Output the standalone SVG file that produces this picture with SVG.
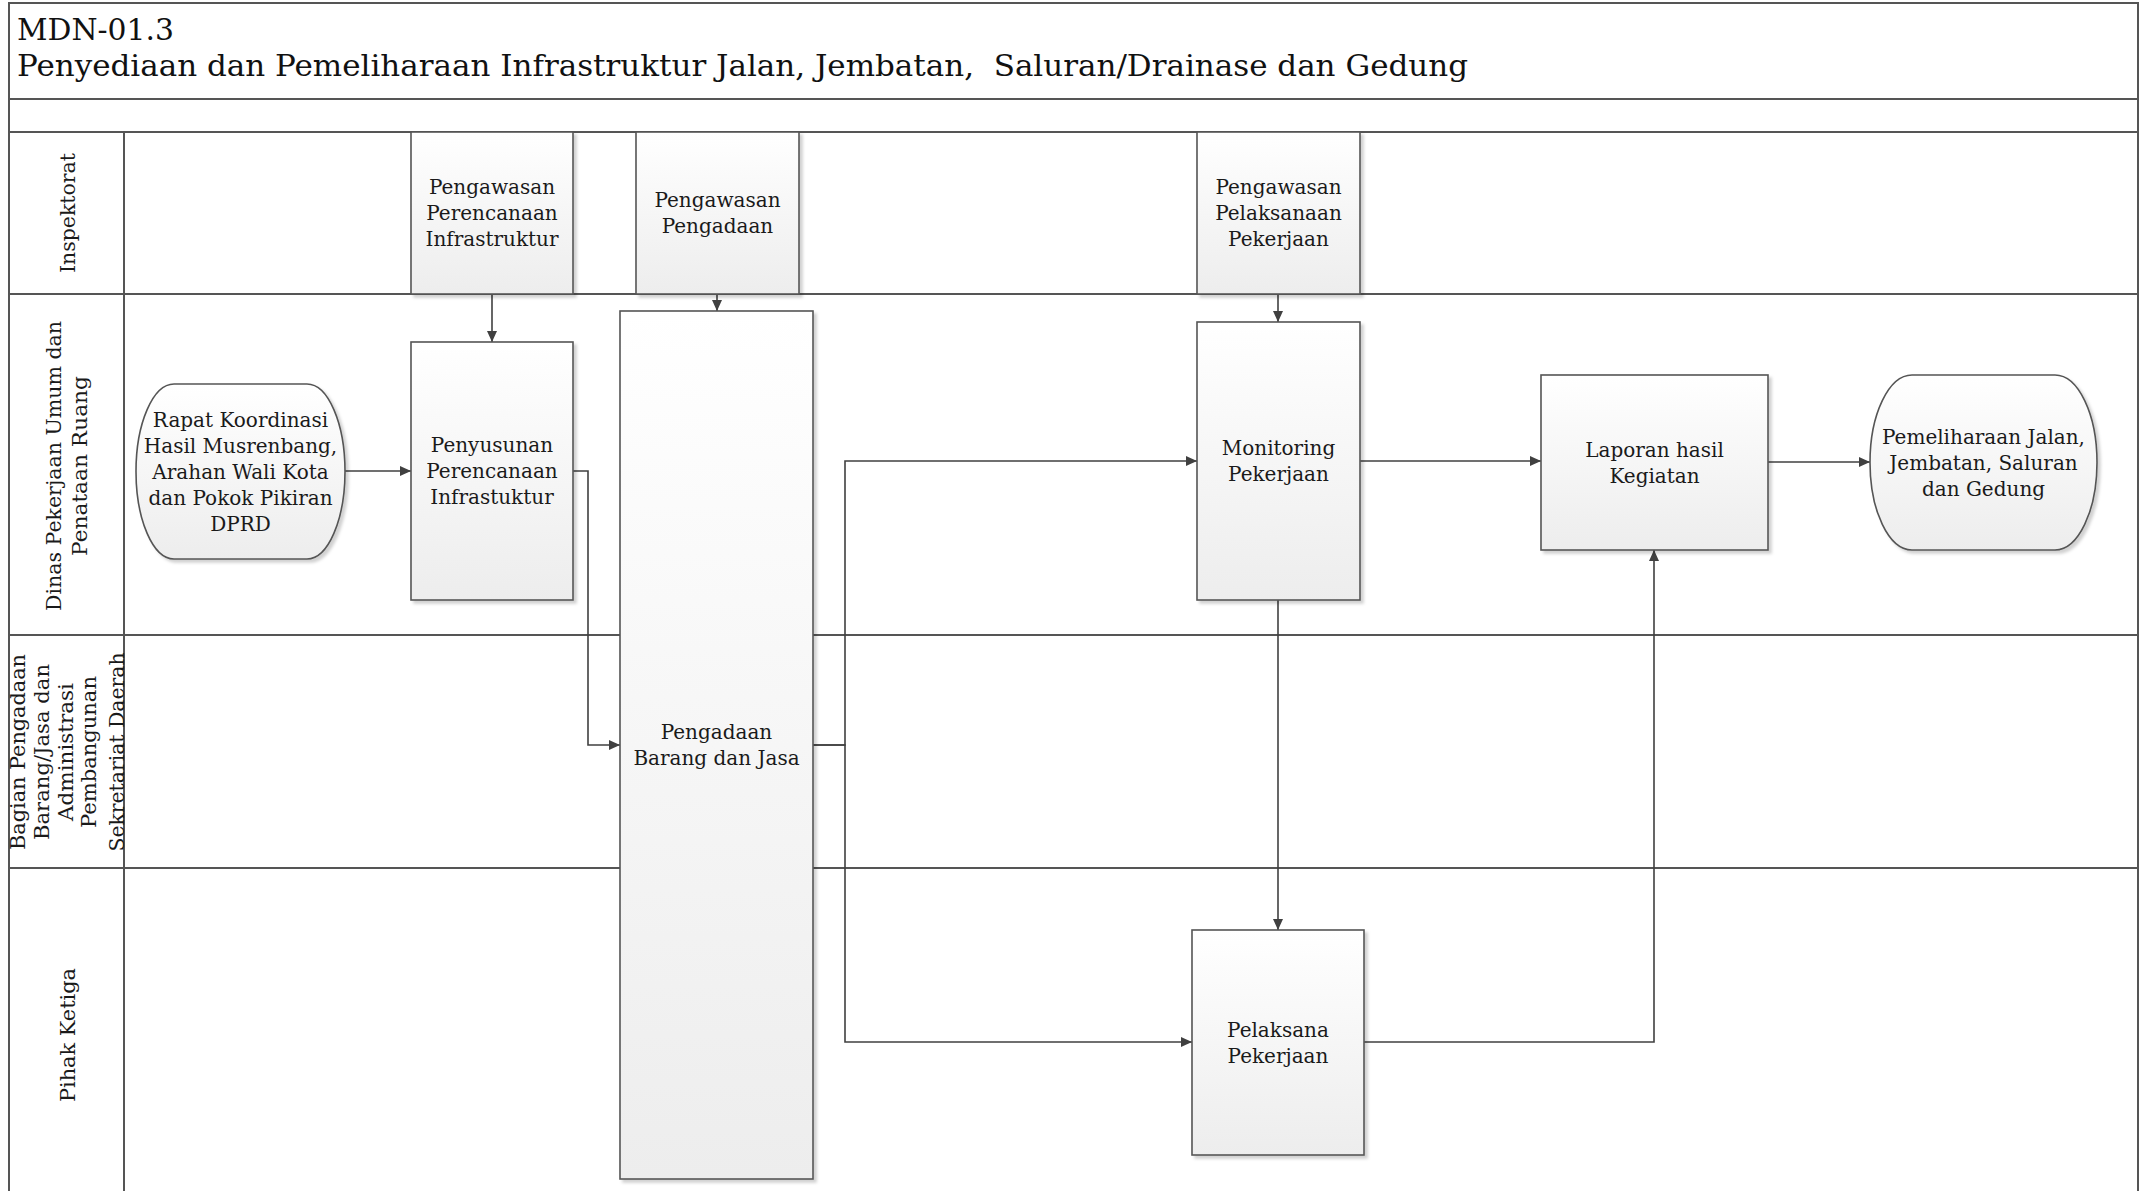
<svg xmlns="http://www.w3.org/2000/svg" width="2141" height="1191" viewBox="0 0 2141 1191">
<style>
.lane{fill:none;stroke:#555;stroke-width:2}
.node{stroke:#555;stroke-width:1.6;fill:url(#gNode);filter:url(#sh)}
.t{font-family:"DejaVu Serif","Liberation Serif",serif;font-size:20px;fill:#1a1a1a;text-anchor:middle}
.lt{font-family:"DejaVu Serif","Liberation Serif",serif;font-size:20px;fill:#1a1a1a;text-anchor:middle}
.title{font-family:"DejaVu Serif","Liberation Serif",serif;font-size:30px;fill:#111}
.c{fill:none;stroke:#404040;stroke-width:1.6}
</style>
<defs>
<linearGradient id="gNode" x1="0" y1="0" x2="0" y2="1">
<stop offset="0" stop-color="#ffffff"/>
<stop offset="1" stop-color="#ededed"/>
</linearGradient>
<linearGradient id="gHead" x1="0" y1="0" x2="0" y2="1">
<stop offset="0" stop-color="#fdfdfd"/>
<stop offset="1" stop-color="#ebebeb"/>
</linearGradient>
<linearGradient id="gCol" x1="0" y1="0" x2="1" y2="0">
<stop offset="0" stop-color="#f7f7f7"/>
<stop offset="1" stop-color="#ececec"/>
</linearGradient>
<filter id="sh" x="-10%" y="-10%" width="130%" height="130%">
<feDropShadow dx="3" dy="3" stdDeviation="1.5" flood-color="#000" flood-opacity="0.18"/>
</filter>
<marker id="ah" markerWidth="11" markerHeight="10" refX="11" refY="5" orient="auto" markerUnits="userSpaceOnUse">
<path d="M0,0 L11,5 L0,10 z" fill="#404040"/>
</marker>
</defs>

<rect x="0" y="0" width="2141" height="1191" fill="#ffffff"/>

<g id="frame">
<rect x="9" y="3" width="2129" height="96" fill="url(#gHead)" class="lane"/>
<rect x="9" y="99" width="2129" height="33" fill="url(#gHead)" class="lane"/>
<rect x="9" y="132" width="115" height="1070" fill="url(#gCol)" class="lane"/>
<path class="lane" d="M9,132 H2138 M9,294 H2138 M9,635 H2138 M9,868 H2138 M9,99 V1191 M2138,3 V1191 M124,132 V1191"/>
<text class="title" x="17" y="39.5" textLength="157" lengthAdjust="spacingAndGlyphs">MDN-01.3</text>
<text class="title" x="17" y="76" xml:space="preserve" textLength="1451" lengthAdjust="spacingAndGlyphs">Penyediaan dan Pemeliharaan Infrastruktur Jalan, Jembatan,  Saluran/Drainase dan Gedung</text>
</g>

<g id="lane-labels">
<text class="lt" transform="translate(75,213) rotate(-90)" textLength="120" lengthAdjust="spacingAndGlyphs">Inspektorat</text>
<text class="lt" transform="translate(61,466) rotate(-90)" textLength="290" lengthAdjust="spacingAndGlyphs">Dinas Pekerjaan Umum dan</text>
<text class="lt" transform="translate(87,466) rotate(-90)" textLength="180" lengthAdjust="spacingAndGlyphs">Penataan Ruang</text>
<text class="lt" transform="translate(25,752) rotate(-90)" textLength="196" lengthAdjust="spacingAndGlyphs">Bagian Pengadaan</text>
<text class="lt" transform="translate(49,752) rotate(-90)" textLength="176" lengthAdjust="spacingAndGlyphs">Barang/Jasa dan</text>
<text class="lt" transform="translate(73,752) rotate(-90)" textLength="138" lengthAdjust="spacingAndGlyphs">Administrasi</text>
<text class="lt" transform="translate(96,752) rotate(-90)" textLength="152" lengthAdjust="spacingAndGlyphs">Pembangunan</text>
<text class="lt" transform="translate(123.5,752) rotate(-90)" textLength="199" lengthAdjust="spacingAndGlyphs">Sekretariat Daerah</text>
<text class="lt" transform="translate(75,1035) rotate(-90)" textLength="134" lengthAdjust="spacingAndGlyphs">Pihak Ketiga</text>
</g>

<g id="connectors">
<path class="c" d="M492,294 V342" marker-end="url(#ah)"/>
<path class="c" d="M717,294 V311" marker-end="url(#ah)"/>
<path class="c" d="M1278,294 V322" marker-end="url(#ah)"/>
<path class="c" d="M345,471 H411" marker-end="url(#ah)"/>
<path class="c" d="M573,471 H588 V745 H620" marker-end="url(#ah)"/>
<path class="c" d="M813,745 H845 V461 H1197" marker-end="url(#ah)"/>
<path class="c" d="M813,745 H845 V1042 H1192" marker-end="url(#ah)"/>
<path class="c" d="M1278,600 V930" marker-end="url(#ah)"/>
<path class="c" d="M1360,461 H1541" marker-end="url(#ah)"/>
<path class="c" d="M1768,462 H1870" marker-end="url(#ah)"/>
<path class="c" d="M1364,1042 H1654 V550" marker-end="url(#ah)"/>
</g>

<g id="n-pengawasan-perencanaan">
<rect class="node" x="411" y="132" width="162" height="162"/>
<text class="t" x="492" y="194">Pengawasan</text>
<text class="t" x="492" y="220">Perencanaan</text>
<text class="t" x="492" y="246">Infrastruktur</text>
</g>

<g id="n-pengawasan-pengadaan">
<rect class="node" x="636" y="132" width="163" height="162"/>
<text class="t" x="717.5" y="207">Pengawasan</text>
<text class="t" x="717.5" y="233">Pengadaan</text>
</g>

<g id="n-pengawasan-pelaksanaan">
<rect class="node" x="1197" y="132" width="163" height="162"/>
<text class="t" x="1278.5" y="194">Pengawasan</text>
<text class="t" x="1278.5" y="220">Pelaksanaan</text>
<text class="t" x="1278.5" y="246">Pekerjaan</text>
</g>

<g id="n-rapat">
<rect class="node" x="136" y="384" width="209" height="175" rx="38" ry="87.5"/>
<text class="t" x="240.5" y="426.5">Rapat Koordinasi</text>
<text class="t" x="240.5" y="452.5">Hasil Musrenbang,</text>
<text class="t" x="240.5" y="478.5">Arahan Wali Kota</text>
<text class="t" x="240.5" y="504.5">dan Pokok Pikiran</text>
<text class="t" x="240.5" y="530.5">DPRD</text>
</g>

<g id="n-penyusunan">
<rect class="node" x="411" y="342" width="162" height="258"/>
<text class="t" x="492" y="452">Penyusunan</text>
<text class="t" x="492" y="478">Perencanaan</text>
<text class="t" x="492" y="504">Infrastuktur</text>
</g>

<g id="n-pengadaan">
<rect class="node" x="620" y="311" width="193" height="868"/>
<text class="t" x="716.5" y="739">Pengadaan</text>
<text class="t" x="716.5" y="765">Barang dan Jasa</text>
</g>

<g id="n-monitoring">
<rect class="node" x="1197" y="322" width="163" height="278"/>
<text class="t" x="1278.5" y="455">Monitoring</text>
<text class="t" x="1278.5" y="481">Pekerjaan</text>
</g>

<g id="n-laporan">
<rect class="node" x="1541" y="375" width="227" height="175"/>
<text class="t" x="1654.5" y="456.5">Laporan hasil</text>
<text class="t" x="1654.5" y="482.5">Kegiatan</text>
</g>

<g id="n-pemeliharaan">
<rect class="node" x="1870" y="375" width="227" height="175" rx="42" ry="87.5"/>
<text class="t" x="1983.5" y="443.5">Pemeliharaan Jalan,</text>
<text class="t" x="1983.5" y="469.5">Jembatan, Saluran</text>
<text class="t" x="1983.5" y="495.5">dan Gedung</text>
</g>

<g id="n-pelaksana">
<rect class="node" x="1192" y="930" width="172" height="225"/>
<text class="t" x="1278" y="1036.5">Pelaksana</text>
<text class="t" x="1278" y="1062.5">Pekerjaan</text>
</g>
</svg>
